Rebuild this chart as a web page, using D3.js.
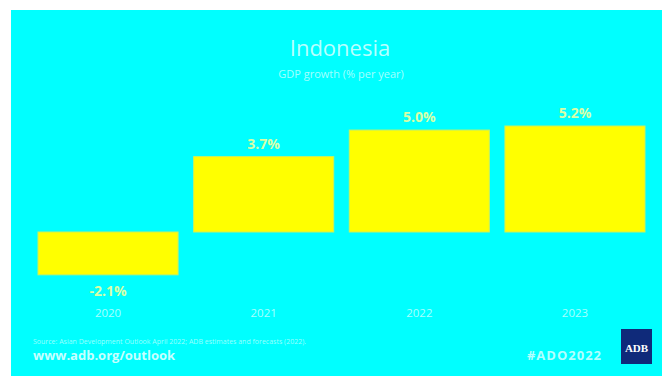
<!DOCTYPE html>
<html>
<head>
<meta charset="utf-8">
<script src="https://cdn.jsdelivr.net/npm/d3@7"></script>
<style>
	body { margin: 0; background: #fff; }
	svg { display: block; font-family: "Open Sans", sans-serif; }
</style>
</head>
<body>
<svg id="chart" width="662" height="378"></svg>
<script>
// values
var years = ["2020", "2021", "2022", "2023"];
var growth = [-2.1, 3.7, 5.0, 5.2];
var valueLabels = ["-2.1%", "3.7%", "5.0%", "5.2%"];

var svg = d3.select("#chart");

// cyan panel
svg.append("rect")
	.attr("x", 11).attr("y", 10)
	.attr("width", 651).attr("height", 366)
	.attr("fill", "#00ffff");

var x = d3.scaleBand()
	.domain(years)
	.range([38, 645])
	.paddingInner(0.1)
	.paddingOuter(0);

var y = d3.scaleLinear()
	.domain([0, 5.2])
	.range([232, 126]);

var data = years.map(function(d, i) {
	return { year: d, value: growth[i], label: valueLabels[i] };
});

// title block
svg.append("text")
	.attr("x", 340).attr("y", 56)
	.attr("text-anchor", "middle")
	.attr("font-size", 22)
	.attr("fill", "#b8ffff")
	.text("Indonesia");

svg.append("text")
	.attr("x", 341).attr("y", 78)
	.attr("text-anchor", "middle")
	.attr("font-size", 11)
	.attr("fill", "#a4ffff")
	.text("GDP growth (% per year)");

// bars
svg.append("g").selectAll("rect")
	.data(data)
	.enter().append("rect")
	.attr("x", function(d) { return x(d.year); })
	.attr("y", function(d) { return Math.min(y(d.value), y(0)); })
	.attr("width", x.bandwidth())
	.attr("height", function(d) { return Math.abs(y(d.value) - y(0)); })
	.attr("fill", "#ffff00")
	.attr("stroke", "#c8f060")
	.attr("stroke-width", 1);

// value labels
svg.append("g").selectAll("text")
	.data(data)
	.enter().append("text")
	.attr("x", function(d) { return x(d.year) + x.bandwidth() / 2; })
	.attr("y", function(d) { return d.value >= 0 ? y(d.value) - 8 : y(d.value) + 21; })
	.attr("text-anchor", "middle")
	.attr("font-size", 14)
	.attr("font-weight", "bold")
	.attr("fill", "#d8ffa8")
	.text(function(d) { return d.label; });

// category axis, no line or ticks
var axis = svg.append("g")
	.attr("transform", "translate(0,306)")
	.call(d3.axisBottom(x).tickSize(0).tickPadding(3));
axis.select(".domain").remove();
axis.selectAll("text")
	.attr("font-size", 11.5)
	.attr("font-family", "Open Sans, sans-serif")
	.attr("fill", "#a8ffff");

// footer
svg.append("text")
	.attr("x", 33).attr("y", 344)
	.attr("font-size", 7)
	.attr("fill", "#9cffff")
	.text("Source: Asian Development Outlook April 2022; ADB estimates and forecasts (2022).");

svg.append("text")
	.attr("x", 33).attr("y", 360)
	.attr("font-size", 13)
	.attr("font-weight", "bold")
	.attr("fill", "#c8ffff")
	.text("www.adb.org/outlook");

svg.append("text")
	.attr("x", 602).attr("y", 360)
	.attr("text-anchor", "end")
	.attr("font-size", 13)
	.attr("font-weight", "bold")
	.attr("letter-spacing", 1)
	.attr("fill", "#b4ffff")
	.text("#ADO2022");

// ADB logo
svg.append("rect")
	.attr("x", 621).attr("y", 329)
	.attr("width", 31).attr("height", 35)
	.attr("fill", "#0f2a7a");
svg.append("text")
	.attr("x", 636.5).attr("y", 352)
	.attr("text-anchor", "middle")
	.attr("font-size", 11)
	.attr("font-weight", "bold")
	.attr("font-family", "Liberation Serif, serif")
	.attr("fill", "#ffffff")
	.text("ADB");
</script>
</body>
</html>
